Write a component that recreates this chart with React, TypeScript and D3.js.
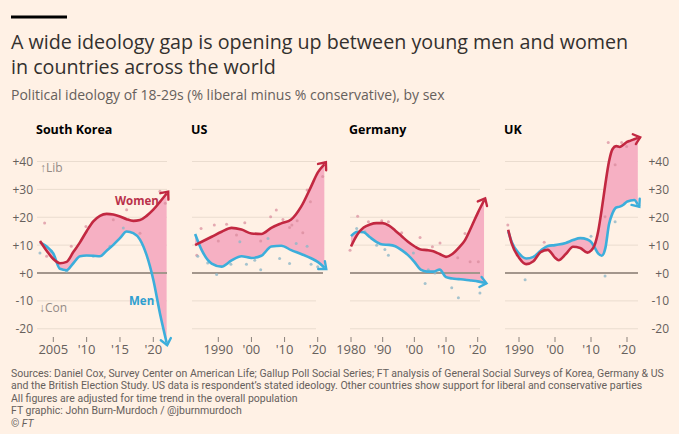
import { useEffect, useRef } from "react";
import * as d3 from "d3";

const title1 = "A wide ideology gap is opening up between young men and women";
const title2 = "in countries across the world";
const subtitle = "Political ideology of 18-29s (% liberal minus % conservative), by sex";
const sourceLines = [
  "Sources: Daniel Cox, Survey Center on American Life; Gallup Poll Social Series; FT analysis of General Social Surveys of Korea, Germany & US",
  "and the British Election Study. US data is respondent’s stated ideology. Other countries show support for liberal and conservative parties",
  "All figures are adjusted for time trend in the overall population",
  "FT graphic: John Burn-Murdoch / @jburnmurdoch",
];

const yTicks = [40, 30, 20, 10, 0, -10, -20];
const yTickLabels = ["+40", "+30", "+20", "+10", "+0", "-10", "-20"];

// South Korea
const koreaYears = [2003, 2004, 2005, 2006, 2007, 2008, 2009, 2010, 2011, 2012, 2013, 2014, 2015, 2016, 2017, 2018, 2019, 2020, 2021, 2022];
const koreaWomen = [11.5, 8, 5, 3.5, 4, 7.5, 11, 15, 18.5, 20.5, 21.2, 21, 20.3, 19.3, 18.7, 19, 20.5, 22.7, 25.5, 28.5];
const koreaMen = [11, 9.5, 7, 1.5, 1, 3.5, 6, 6.3, 6.2, 6, 8, 10.1, 12.5, 14.9, 14.3, 12, 6.4, -2.4, -14.5, -25];
const koreaWomenDots = [[2003.7, 17.9], [2004, 6], [2007.7, 9.6], [2009.9, 16.7], [2014, 19.1], [2016, 22.7], [2018, 14.3], [2021, 29.3], [2021.8, 25]];
const koreaMenDots = [[2003, 7.2], [2004.7, 7.8], [2007, 0.6], [2011, 6], [2013.5, 9.6], [2015.5, 16.1]];
const koreaTicks = [2005, 2010, 2015, 2020];
const koreaTickLabels = ["2005", "'10", "'15", "'20"];

// US
const usYears = [1983, 1985, 1988, 1991, 1994, 1997, 2000, 2003, 2006, 2009, 2012, 2015, 2018, 2020, 2022];
const usWomen = [10, 11.2, 13, 14.8, 16.2, 15.6, 14.2, 14, 16.2, 17.8, 19.2, 23.8, 31, 36, 39];
const usMen = [14, 8.2, 3.4, 2.3, 4.5, 6, 5.4, 6.2, 9.5, 9.8, 8.2, 6.8, 5.3, 4, 2];
const usWomenDots = [[1984.8, 16], [1988.8, 17.2], [1992.5, 17.5], [1998, 18], [1995.5, 13.6], [2002.8, 11.5], [2005.8, 20.2], [2007.5, 22.6], [2009.5, 19.2], [2011.5, 16.3], [2012.2, 17.2], [2013.8, 18.7], [2015.5, 14.4], [2016.8, 29.8], [2017.8, 25.6], [2021.5, 34.6], [1983.5, 6.4], [1990, 11.5]];
const usMenDots = [[1983.8, 6], [1986.8, 3.6], [1989.5, -0.5], [1993.8, 3.1], [1998.5, 3.1], [2001, 4.6], [2002.8, 1.2], [2005, 12.4], [2008.5, 5.2], [2011.5, 3.4], [2013.5, 10.6], [2016.8, 9.6], [2018, 3.1], [2020, 2.2], [1996.5, 11.2]];
const usTicks = [1990, 2000, 2010, 2020];
const usTickLabels = ["1990", "'00", "'10", "'20"];

// Germany
const deYears = [1980, 1982, 1984, 1986, 1988, 1990, 1992, 1994, 1996, 1998, 2000, 2002, 2004, 2006, 2008, 2010, 2012, 2014, 2016, 2018, 2020, 2022];
const deWomen = [9.5, 13.8, 16.3, 17.4, 17.9, 17.9, 17, 15.2, 13.2, 11.2, 9.6, 8.4, 8.2, 7.8, 6.8, 5.8, 6.8, 9, 11.8, 16.5, 21.5, 26];
const deMen = [13.2, 14.8, 14.6, 12.8, 11.2, 10.2, 10.1, 9.6, 8.2, 6.4, 4, 1.2, 0.5, 0.5, 1.2, -1.5, -2, -2.2, -2.4, -2.7, -3, -3.5];
const deWomenDots = [[1979.7, 8.2], [1982.1, 20.4], [1985.5, 18.4], [1989.7, 18.7], [1991.8, 18.4], [1996, 14.4], [2001.8, 12.7], [2005.7, 9.4], [2008.1, 10.8], [2013.7, 5.5], [2016, 14.2], [2017.6, 4], [2020.2, 4]];
const deMenDots = [[1981.8, 16], [1984.4, 14.8], [1988.1, 10], [1990.7, 8.4], [1991.8, 6.4], [1999.7, 7.2], [2003.4, -3.8], [2004.4, 1.2], [2011.8, -5.3], [2013.9, -8.9], [2020.7, -7.2], [2006.5, 0]];
const deTicks = [1980, 1990, 2000, 2010, 2020];
const deTickLabels = ["1980", "'90", "'00", "'10", "'20"];

// UK
const ukYears = [1987, 1988, 1990, 1992, 1994, 1996, 1998, 2000, 2001, 2003, 2005, 2007, 2009, 2010, 2011, 2012, 2013, 2014, 2015, 2016, 2017, 2018, 2019, 2020, 2021, 2022, 2023];
const ukWomen = [15.5, 10.5, 5.5, 3.2, 4.2, 7.5, 8.3, 5.5, 4.6, 6.8, 9.4, 9, 7.3, 8, 10, 15, 23, 32, 40, 44.5, 45.5, 45.2, 46, 47, 47.5, 48, 48.4];
const ukMen = [15, 11, 7, 5.2, 5.8, 8, 9.7, 10, 10.2, 10.8, 11.8, 12.5, 12, 11.2, 9.2, 7, 6.2, 9, 17.5, 21.5, 23.5, 23.8, 24.5, 25.6, 26, 26.2, 24.5];
const ukWomenDots = [[1986.9, 17.2], [1997, 11], [2013.9, 20.2], [2014.8, 46.8], [2016.7, 38.8], [2018.5, 46.8], [2019.9, 45.4]];
const ukMenDots = [[1991.7, -2.4], [2010, 13.2], [2013.9, -1.1], [2016.7, 18.4]];
const ukTicks = [1990, 2000, 2010, 2020];
const ukTickLabels = ["1990", "'00", "'10", "'20"];

const countries = ["South Korea", "US", "Germany", "UK"];

// layout only (pixels)
const layout = [
  { px0: 53.3, px1: 153.3, left: 37, right: 167, zeroRight: 167 },
  { px0: 218.3, px1: 317.7, left: 192, right: 316, zeroRight: 323 },
  { px0: 351, px1: 477.7, left: 350, right: 480, zeroRight: 480 },
  { px0: 519, px1: 627, left: 505, right: 638, zeroRight: 638 },
];

const BG = "#fff1e5";
const RED = "#c22841";
const BLUE = "#3caedb";
const PINK = "#f6b0c3";
const GREY = "#66605c";
const FONT = "'Open Sans', sans-serif";
const SMALL_FONT = "Roboto, sans-serif";

export default function App() {
  const svgRef = useRef<SVGSVGElement | null>(null);
  const width = 679;
  const height = 434;

  useEffect(() => {
    const svg = d3.select(svgRef.current);
    svg.selectAll("*").remove();

    svg.append("rect").attr("width", width).attr("height", height).attr("fill", BG);

    // header
    svg.append("rect").attr("x", 11).attr("y", 15.5).attr("width", 56).attr("height", 3).attr("fill", "#000");
    svg.append("text").attr("x", 11).attr("y", 49).style("font-family", FONT).style("font-size", "19.7px")
      .style("fill", "#33302e").text(title1);
    svg.append("text").attr("x", 11).attr("y", 74).style("font-family", FONT).style("font-size", "19.7px")
      .style("fill", "#33302e").text(title2);
    svg.append("text").attr("x", 11).attr("y", 100).style("font-family", FONT).style("font-size", "14px")
      .style("fill", GREY).text(subtitle);

    const y = d3.scaleLinear().domain([-20, 40]).range([328.75, 161.5]);

    const series = [
      { years: koreaYears, women: koreaWomen, men: koreaMen, wDots: koreaWomenDots, mDots: koreaMenDots, ticks: koreaTicks, labels: koreaTickLabels },
      { years: usYears, women: usWomen, men: usMen, wDots: usWomenDots, mDots: usMenDots, ticks: usTicks, labels: usTickLabels },
      { years: deYears, women: deWomen, men: deMen, wDots: deWomenDots, mDots: deMenDots, ticks: deTicks, labels: deTickLabels },
      { years: ukYears, women: ukWomen, men: ukMen, wDots: ukWomenDots, mDots: ukMenDots, ticks: ukTicks, labels: ukTickLabels },
    ];

    const drawArrow = (g: any, pts: [number, number][], color: string) => {
      const [x1, y1] = pts[pts.length - 2];
      const [x2, y2] = pts[pts.length - 1];
      const a = Math.atan2(y2 - y1, x2 - x1);
      const tx = x2 + Math.cos(a) * 2.5;
      const ty = y2 + Math.sin(a) * 2.5;
      const L = 8, W = 0.7;
      const p1 = [tx - L * Math.cos(a - W), ty - L * Math.sin(a - W)];
      const p2 = [tx - L * Math.cos(a + W), ty - L * Math.sin(a + W)];
      g.append("path")
        .attr("d", `M${p1[0]},${p1[1]}L${tx},${ty}L${p2[0]},${p2[1]}`)
        .attr("fill", "none").attr("stroke", color).attr("stroke-width", 2.4)
        .attr("stroke-linecap", "round").attr("stroke-linejoin", "miter");
      g.append("line").attr("x1", x2).attr("y1", y2).attr("x2", tx).attr("y2", ty)
        .attr("stroke", color).attr("stroke-width", 2.8);
    };

    series.forEach((s, i) => {
      const L = layout[i];
      const x = d3.scaleLinear().domain([s.ticks[0], s.ticks[s.ticks.length - 1]]).range([L.px0, L.px1]);
      const g = svg.append("g");

      // title
      g.append("text").attr("x", L.left - 1).attr("y", 134).style("font-family", FONT)
        .style("font-size", "12.5px").style("font-weight", 700).style("fill", "#000").text(countries[i]);

      // grid
      g.selectAll(".grid").data(yTicks.filter((v) => v !== 0)).join("line")
        .attr("x1", L.left).attr("x2", L.right)
        .attr("y1", (d) => y(d)).attr("y2", (d) => y(d))
        .attr("stroke", "#eadccf").attr("stroke-width", 1);

      // area between
      const idx = d3.range(s.years.length);
      const area = d3.area<number>()
        .x((j) => x(s.years[j]))
        .y0((j) => y(s.men[j]))
        .y1((j) => y(s.women[j]))
        .curve(d3.curveMonotoneX);
      g.append("path").attr("d", area(idx)).attr("fill", PINK);

      // zero line
      g.append("line").attr("x1", L.left).attr("x2", L.zeroRight).attr("y1", y(0)).attr("y2", y(0))
        .attr("stroke", "#a3968c").attr("stroke-width", 1.8);

      // dots
      g.selectAll(".wdot").data(s.wDots).join("circle")
        .attr("cx", (d) => x(d[0])).attr("cy", (d) => y(d[1])).attr("r", 1.5)
        .attr("fill", "#d98a9b").attr("opacity", 0.7);
      g.selectAll(".mdot").data(s.mDots).join("circle")
        .attr("cx", (d) => x(d[0])).attr("cy", (d) => y(d[1])).attr("r", 1.5)
        .attr("fill", "#8fb8c8").attr("opacity", 0.8);

      // lines
      const line = d3.line<number>().x((j) => x(s.years[j])).curve(d3.curveMonotoneX);
      const menPts = idx.map((j) => [x(s.years[j]), y(s.men[j])] as [number, number]);
      const womenPts = idx.map((j) => [x(s.years[j]), y(s.women[j])] as [number, number]);
      g.append("path").attr("d", line.y((j) => y(s.men[j]))(idx))
        .attr("fill", "none").attr("stroke", BLUE).attr("stroke-width", 2.6);
      drawArrow(g, menPts, BLUE);
      g.append("path").attr("d", line.y((j) => y(s.women[j]))(idx))
        .attr("fill", "none").attr("stroke", RED).attr("stroke-width", 2.6);
      drawArrow(g, womenPts, RED);

      // x ticks
      g.selectAll(".xt").data(s.ticks).join("line")
        .attr("x1", (d) => x(d)).attr("x2", (d) => x(d)).attr("y1", 337).attr("y2", 342)
        .attr("stroke", "#8a817a").attr("stroke-width", 1);
      g.selectAll(".xl").data(s.ticks).join("text")
        .attr("x", (d) => x(d)).attr("y", 354).attr("text-anchor", "middle")
        .style("font-family", FONT).style("font-size", "13px").style("fill", GREY)
        .text((_, k) => s.labels[k]);
    });

    // y labels left (Korea) and right (UK)
    svg.selectAll(".yl").data(yTicks).join("text")
      .attr("x", 33).attr("y", (d) => y(d) + 4.5).attr("text-anchor", "end")
      .style("font-family", FONT).style("font-size", "12px").style("fill", GREY)
      .text((_, k) => yTickLabels[k]);
    svg.selectAll(".yr").data(yTicks).join("text")
      .attr("x", 669).attr("y", (d) => y(d) + 4.5).attr("text-anchor", "end")
      .style("font-family", FONT).style("font-size", "12px").style("fill", GREY)
      .text((_, k) => yTickLabels[k]);

    // annotations
    svg.append("text").attr("x", 40).attr("y", 172).style("font-family", FONT).style("font-size", "12px")
      .style("fill", "#948b85").text("↑Lib");
    svg.append("text").attr("x", 39).attr("y", 311.5).style("font-family", FONT).style("font-size", "12px")
      .style("fill", "#948b85").text("↓Con");
    svg.append("text").attr("x", 115).attr("y", 205).style("font-family", FONT).style("font-size", "11.5px")
      .style("font-weight", 700).style("fill", "#b9304a").text("Women");
    svg.append("text").attr("x", 129).attr("y", 305).style("font-family", FONT).style("font-size", "11.5px")
      .style("font-weight", 700).style("fill", "#2f9fd0").text("Men");

    // sources
    sourceLines.forEach((t, k) => {
      svg.append("text").attr("x", 11).attr("y", 377 + k * 12.4).style("font-family", SMALL_FONT)
        .style("font-size", "10.5px").style("fill", GREY).text(t);
    });
    const ft = svg.append("text").attr("x", 11).attr("y", 426.6).style("font-family", SMALL_FONT)
      .style("font-size", "10.5px").style("fill", GREY);
    ft.append("tspan").text("© ");
    ft.append("tspan").style("font-style", "italic").text("FT");
  }, []);

  return (
    <svg
      ref={svgRef}
      width={width}
      height={height}
      style={{ position: "absolute", left: 0, top: 0, display: "block" }}
    />
  );
}
